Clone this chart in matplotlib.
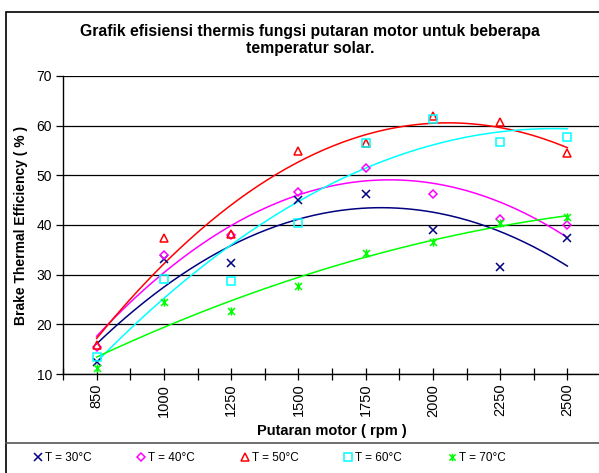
import numpy as np
import matplotlib
matplotlib.use("Agg")
import matplotlib.pyplot as plt
from matplotlib.patches import Rectangle
from matplotlib.lines import Line2D
from matplotlib.path import Path

plt.rcParams['font.family'] = ['Liberation Sans', 'DejaVu Sans']

rpm = ["850", "1000", "1250", "1500", "1750", "2000", "2250", "2500"]

t30 = [12.4, 33.1, 32.3, 45.1, 46.3, 38.9, 31.5, 37.4]
t40 = [15.5, 34.0, 38.0, 46.6, 51.5, 46.3, 41.3, 40.1]
t50 = [15.8, 37.4, 38.1, 54.8, 56.6, 62.0, 60.7, 54.5]
t60 = [13.4, 29.1, 28.7, 40.4, 56.6, 61.3, 56.8, 57.8]
t70 = [11.2, 24.4, 22.7, 27.7, 34.4, 36.6, 40.5, 41.6]

# Excel style star: an x with a vertical bar
star = Path([(-1, -1), (1, 1), (-1, 1), (1, -1), (0, -1.2), (0, 1.2)],
            [Path.MOVETO, Path.LINETO, Path.MOVETO, Path.LINETO, Path.MOVETO, Path.LINETO])

series = [
    ("T = 30\u00b0C", t30, "#000080", "x"),
    ("T = 40\u00b0C", t40, "#FF00FF", "D"),
    ("T = 50\u00b0C", t50, "#FF0000", "^"),
    ("T = 60\u00b0C", t60, "#00FFFF", "s"),
    ("T = 70\u00b0C", t70, "#00FF00", star),
]

W, H = 599, 473
fig = plt.figure(figsize=(W / 100, H / 100), dpi=100)

# outer chart frame and legend box line
fig.patches.append(Rectangle((6 / W, -0.1), 1.1, 1 - 12 / H + 0.1, transform=fig.transFigure,
                             fill=False, edgecolor="black", linewidth=1.2))
fig.lines.append(Line2D([6 / W, 1.0], [1 - 443 / H] * 2, transform=fig.transFigure,
                        color="#555555", linewidth=1.2))

ax = fig.add_axes([63 / W, (H - 374) / H, (601 - 63) / W, (374 - 76) / H])
x = np.arange(len(rpm))
xs = np.linspace(0, len(rpm) - 1, 200)

for label, vals, color, marker in series:
    ms = 4.5 if isinstance(marker, str) and marker == "D" else 6
    ax.plot(x, vals, linestyle="none", marker=marker, markersize=ms,
            markerfacecolor="none", markeredgecolor=color, markeredgewidth=1.1,
            color=color, label=label, clip_on=False, zorder=3)
    # 2nd order polynomial trendline
    coef = np.polyfit(x, vals, 2)
    ax.plot(xs, np.polyval(coef, xs), color=color, linewidth=1.1, zorder=2)

ax.set_xlim(-0.5, len(rpm) - 0.5)
ax.set_ylim(10, 70)
ax.set_yticks(range(10, 71, 10))
ax.yaxis.grid(True, color="black", linewidth=0.9)
ax.set_axisbelow(True)
ax.set_xticks(x)
ax.set_xticklabels(rpm, rotation=90, fontsize=10.5)
ax.set_xticks(np.arange(-0.5, len(rpm), 1.0), minor=True)
ax.tick_params(axis="x", which="both", direction="inout", length=8, width=0.9, pad=3)
ax.tick_params(axis="y", direction="out", length=5, width=0.9, labelsize=10, pad=3)
for s in ("top", "right"):
    ax.spines[s].set_visible(False)
for s in ("left", "bottom"):
    ax.spines[s].set_linewidth(1.0)

ax.set_xlabel("Putaran motor ( rpm )", fontsize=10.5, fontweight="bold", labelpad=5)
ax.set_ylabel("Brake Thermal Efficiency ( % )", fontsize=10, fontweight="bold", labelpad=6)

fig.text(310 / W, 1 - 40 / H, "Grafik efisiensi thermis fungsi putaran motor untuk beberapa\ntemperatur solar.",
         ha="center", va="center", fontsize=11.3, fontweight="bold", linespacing=1.2)

handles, labels = ax.get_legend_handles_labels()
fig.legend(handles, labels, loc="center", bbox_to_anchor=(270 / W, 1 - 458 / H), ncol=5,
           frameon=False, fontsize=8.5, handlelength=0.6, handletextpad=0.3,
           columnspacing=3.9, markerscale=0.9)

fig.savefig("out.png", dpi=100)
